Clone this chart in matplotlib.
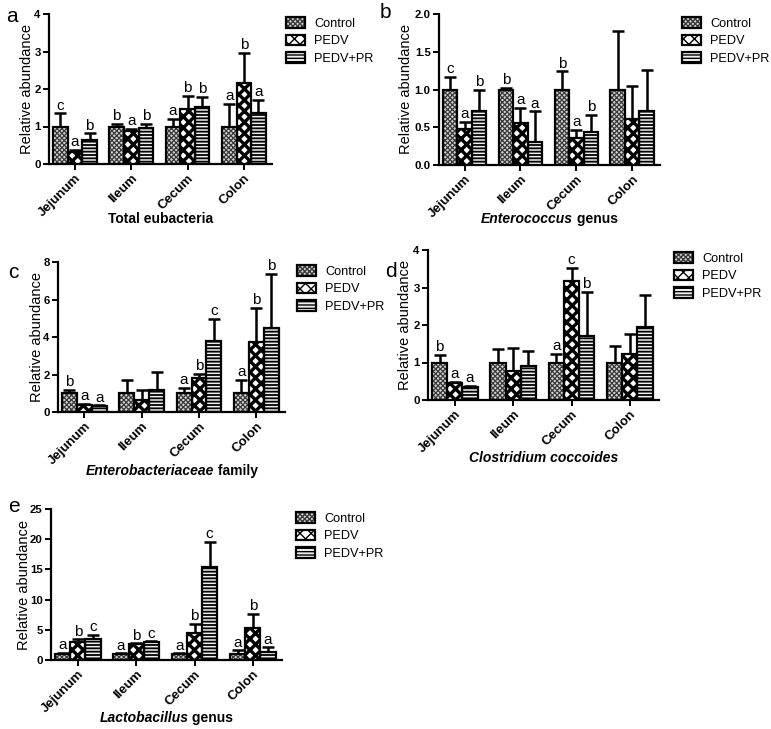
import matplotlib
matplotlib.use("Agg")
import matplotlib.pyplot as plt
import matplotlib.patches as mpatches
import numpy as np

plt.rcParams['font.family'] = ['Liberation Sans Narrow', 'Liberation Sans', 'DejaVu Sans']

sites = ["Jejunum", "Ileum", "Cecum", "Colon"]
groups = ["Control", "PEDV", "PEDV+PR"]

# Panel a: Total eubacteria
a_mean = {"Control": [1.0, 1.0, 1.0, 1.0], "PEDV": [0.32, 0.87, 1.47, 2.15], "PEDV+PR": [0.65, 0.95, 1.52, 1.35]}
a_err = {"Control": [0.35, 0.07, 0.2, 0.6], "PEDV": [0.05, 0.06, 0.35, 0.82], "PEDV+PR": [0.17, 0.11, 0.28, 0.35]}
a_let = {"Control": ["c", "b", "a", "a"], "PEDV": ["a", "a", "b", "b"], "PEDV+PR": ["b", "b", "b", "a"]}

# Panel b: Enterococcus genus
b_mean = {"Control": [1.0, 1.0, 1.0, 1.0], "PEDV": [0.48, 0.56, 0.36, 0.61], "PEDV+PR": [0.71, 0.31, 0.44, 0.72]}
b_err = {"Control": [0.17, 0.02, 0.24, 0.77], "PEDV": [0.09, 0.2, 0.11, 0.44], "PEDV+PR": [0.29, 0.4, 0.22, 0.54]}
b_let = {"Control": ["c", "b", "b", ""], "PEDV": ["a", "a", "a", ""], "PEDV+PR": ["b", "a", "b", ""]}

# Panel c: Enterobacteriaceae family
c_mean = {"Control": [1.0, 1.0, 1.0, 1.0], "PEDV": [0.35, 0.65, 1.8, 3.75], "PEDV+PR": [0.3, 1.15, 3.8, 4.5]}
c_err = {"Control": [0.2, 0.7, 0.3, 0.7], "PEDV": [0.1, 0.5, 0.25, 1.8], "PEDV+PR": [0.05, 1.0, 1.15, 2.85]}
c_let = {"Control": ["b", "", "a", "a"], "PEDV": ["a", "", "b", "b"], "PEDV+PR": ["a", "", "c", "b"]}

# Panel d: Clostridium coccoides
d_mean = {"Control": [1.0, 1.0, 1.0, 1.0], "PEDV": [0.45, 0.78, 3.17, 1.23], "PEDV+PR": [0.35, 0.9, 1.7, 1.95]}
d_err = {"Control": [0.2, 0.35, 0.22, 0.44], "PEDV": [0.03, 0.6, 0.35, 0.52], "PEDV+PR": [0.03, 0.42, 1.18, 0.85]}
d_let = {"Control": ["b", "", "a", ""], "PEDV": ["a", "", "c", ""], "PEDV+PR": ["a", "", "b", ""]}

# Panel e: Lactobacillus genus
e_mean = {"Control": [1.0, 1.0, 1.0, 1.0], "PEDV": [2.9, 2.6, 4.5, 5.3], "PEDV+PR": [3.5, 3.0, 15.4, 1.3]}
e_err = {"Control": [0.2, 0.1, 0.1, 0.6], "PEDV": [0.5, 0.15, 1.5, 2.3], "PEDV+PR": [0.6, 0.1, 4.2, 0.8]}
e_let = {"Control": ["a", "a", "a", "a"], "PEDV": ["b", "b", "b", "b"], "PEDV+PR": ["c", "c", "c", "a"]}

W, H = 771, 729
fig = plt.figure(figsize=(W / 100, H / 100), dpi=100)
renderer = fig.canvas.get_renderer()

def fx(px):
    return px / W

def fy(py):
    return 1 - py / H

styles = {
    "Control": dict(hatch="xxxxxxx", hlw=0.9, face="#d4d4d4", hcol="#3a3a3a"),
    "PEDV": dict(hatch="xxx", hlw=2.4, face="white", hcol="black"),
    "PEDV+PR": dict(hatch="-----", hlw=1.3, face="#f0f0f0", hcol="black"),
}

def set_hlw(p, lw):
    if hasattr(p, "set_hatch_linewidth"):
        p.set_hatch_linewidth(lw)
    else:
        p._hatch_linewidth = lw

def title_text(cx, cy, parts):
    objs = []
    for s, it in parts:
        objs.append(fig.text(0, fy(cy), s, ha="left", va="center", fontsize=10,
                             fontweight="bold", fontstyle="italic" if it else "normal"))
    widths = [o.get_window_extent(renderer).width for o in objs]
    total = sum(widths)
    x0 = cx - total / 2
    for o, wd in zip(objs, widths):
        o.set_x(fx(x0))
        x0 += wd

def panel(box, mean, err, let, ymax, yticks, yfmt, title_parts, title_y, letter, letter_xy, leg_xy, ylab_x):
    l, r, b, t = box
    ax = fig.add_axes([fx(l), fy(b), fx(r) - fx(l), fy(t) - fy(b)])
    x = np.arange(len(sites))
    w = 0.26
    handles = []
    for i, g in enumerate(groups):
        st = styles[g]
        xs = x + (i - 1) * w
        hb = ax.bar(xs, mean[g], width=w, color=st["face"], edgecolor=st["hcol"],
                    hatch=st["hatch"], linewidth=0, zorder=3)
        for p in hb:
            set_hlw(p, st["hlw"])
        ax.bar(xs, mean[g], width=w, color="none", edgecolor="black", linewidth=1.6, zorder=4)
        hp = mpatches.Patch(facecolor=st["face"], edgecolor=st["hcol"], hatch=st["hatch"], linewidth=0)
        set_hlw(hp, st["hlw"])
        op = mpatches.Patch(facecolor="none", edgecolor="black", linewidth=1.6)
        handles.append((hp, op))
        ax.errorbar(xs, mean[g], yerr=[np.zeros(len(sites)), err[g]], fmt="none",
                    ecolor="black", elinewidth=1.8, capsize=4, capthick=1.8, zorder=2)
        for xi, m, e, s in zip(xs, mean[g], err[g], let[g]):
            if s:
                ax.text(xi, m + e + ymax * 0.005, s, ha="center", va="bottom", fontsize=11,
                        family=["Liberation Sans"])
    ax.set_xlim(-0.46, 3.5)
    ax.set_ylim(0, ymax)
    ax.set_yticks(yticks)
    ax.set_yticklabels([yfmt.format(v) for v in yticks], fontsize=8.2, fontweight="bold")
    ax.set_xticks(x)
    ax.set_xticklabels(sites, rotation=45, ha="right", rotation_mode="anchor",
                       fontsize=9.5, fontweight="bold")
    for s in ["top", "right"]:
        ax.spines[s].set_visible(False)
    for s in ["left", "bottom"]:
        ax.spines[s].set_linewidth(1.6)
    ax.tick_params(axis="both", width=1.4, length=4, pad=2)
    ax.set_ylabel("Relative abundance", fontsize=10.5, family=["Liberation Sans"],
                  va="center", ha="center")
    ax.yaxis.set_label_coords((ylab_x - l) / (r - l), 0.5)
    cx = (l + r) / 2
    title_text(cx, title_y, title_parts)
    fig.text(fx(letter_xy[0]), fy(letter_xy[1]), letter, ha="left", va="center", fontsize=15,
             family=["Liberation Sans"])
    ax.legend(handles=handles, labels=groups, loc="upper left",
              bbox_to_anchor=(fx(leg_xy[0]), fy(leg_xy[1])),
              bbox_transform=fig.transFigure, frameon=False,
              prop={"family": ["Liberation Sans"], "size": 9.2},
              handlelength=1.5, handleheight=0.9, labelspacing=0.38, handletextpad=0.7,
              borderaxespad=0, borderpad=0)
    return ax

panel((49, 272, 164, 14), a_mean, a_err, a_let, 4, [0, 1, 2, 3, 4], "{:.0f}",
      [("Total eubacteria", False)], 219, "a", (6, 16), (286, 17), 27)
panel((439, 660, 165, 14), b_mean, b_err, b_let, 2.0, [0, 0.5, 1.0, 1.5, 2.0], "{:.1f}",
      [("Enterococcus", True), (" genus", False)], 219, "b", (380, 13), (682, 17), 406)
panel((58, 285, 412, 262), c_mean, c_err, c_let, 8, [0, 2, 4, 6, 8], "{:.0f}",
      [("Enterobacteriaceae", True), (" family", False)], 471, "c", (8, 272), (297, 265), 37)
panel((428, 659, 400, 250), d_mean, d_err, d_let, 4, [0, 1, 2, 3, 4], "{:.0f}",
      [("Clostridium coccoides", True)], 458, "d", (385, 271), (674, 252), 405)
panel((51, 282, 660, 509), e_mean, e_err, e_let, 25, [0, 5, 10, 15, 20, 25], "{:.0f}",
      [("Lactobacillus", True), (" genus", False)], 718, "e", (8, 507), (296, 512), 24)

fig.savefig("out.png", dpi=100)
